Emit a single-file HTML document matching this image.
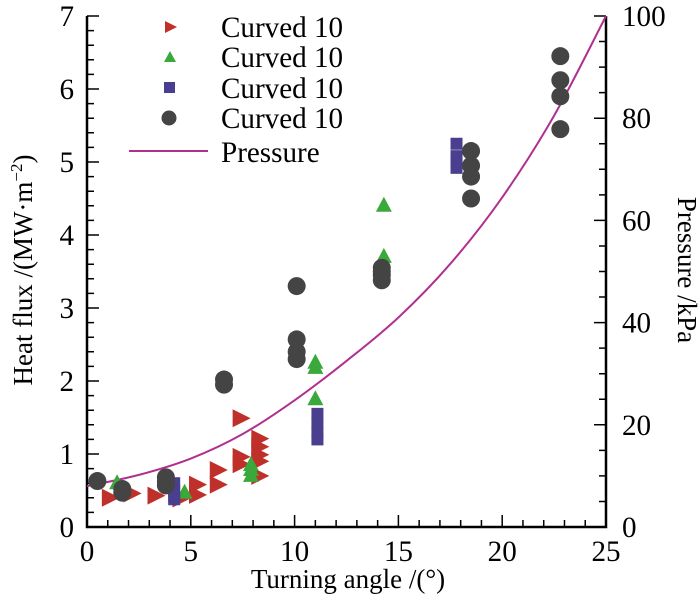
<!DOCTYPE html>
<html><head><meta charset="utf-8"><style>
body{margin:0;background:#fff}
svg{display:block}
svg text{font-family:"Liberation Serif","DejaVu Serif",serif}
</style></head><body>
<svg id="chart" width="700" height="600" viewBox="0 0 700 600"></svg>
<script>
const xTicks=[0,5,10,15,20,25];
const yTicks=[0,1,2,3,4,5,6,7];
const y2Ticks=[0,20,40,60,80,100];
const redX=[1.1,2.15,3.3,4.5,5.3,5.3,6.3,6.3,7.4,7.4,7.4,8.3,8.3,8.3,8.3,8.3];
const redY=[0.4,0.46,0.43,0.39,0.58,0.44,0.78,0.58,1.49,0.96,0.86,1.21,1.1,0.99,0.9,0.7];
const greenX=[1.45,4.7,7.9,7.9,7.9,11,11,11,14.3,14.3];
const greenY=[0.6,0.47,0.85,0.78,0.7,2.25,2.18,1.75,4.4,3.7];
const blueX=[4.2,4.2,4.2,4.2,11.1,11.1,11.1,11.1,17.8,17.8,17.8,17.8];
const blueY=[0.6,0.5,0.42,0.38,1.55,1.42,1.3,1.2,5.25,5.08,5.0,4.92];
const grayX=[0.5,1.7,1.7,3.8,3.8,3.8,6.6,6.6,10.1,10.1,10.1,10.1,14.2,14.2,14.2,14.2,18.5,18.5,18.5,18.5,22.8,22.8,22.8,22.8];
const grayY=[0.63,0.52,0.47,0.68,0.62,0.57,2.02,1.95,3.3,2.57,2.4,2.3,3.55,3.5,3.45,3.38,5.15,4.95,4.8,4.5,6.45,6.12,5.9,5.45];
const pressX=[0,2.5,5,7.5,10,12.5,15,17.5,20,22.5,25];
const pressY=[8,10.2,13.4,18.2,24.8,32.5,41,51.5,64.5,80.5,100];
const legendLabels=["Curved 10","Curved 10","Curved 10","Curved 10","Pressure"];

const X0=87,X1=606,Y0=527,Y1=16;
const sx=v=>X0+(v-0)/25*(X1-X0);
const sy=v=>Y0-v/7*(Y0-Y1);
const sy2=v=>Y0-v/100*(Y0-Y1);
const svg=document.getElementById('chart');
const NS='http://www.w3.org/2000/svg';
function mk(t,a,p){const e=document.createElementNS(NS,t);for(const k in a)e.setAttribute(k,a[k]);if(t==='text'){const fs=a['font-size']||27;e.removeAttribute('font-size');e.setAttribute('style',`font-family:'Liberation Serif','DejaVu Serif',serif;font-size:${fs}px`);}(p||svg).appendChild(e);return e;}
function big(x,y,anchor,txt,p){const t=mk('text',{transform:`translate(${x},${y}) scale(1.12)`,x:0,y:0,'text-anchor':anchor,'font-size':26},p);t.textContent=String(txt);return t;}

let ax=mk('path',{d:`M${X0},${Y1}V${Y0}H${X1}V${Y1}`,fill:'none',stroke:'#000','stroke-width':2.5});


let tk='';
for(let v=0;v<=25;v++){tk+=`M${sx(v)},${Y0}v${v%5?-7:-12}`;}
for(let i=0;i<=35;i++){const v=i*0.2;tk+=`M${X0},${sy(v)}h${i%5?7:12}`;}
for(let i=0;i<=20;i++){const v=i*5;tk+=`M${X1},${sy2(v)}h${i%4?-7:-12}`;}
let tp=mk('path',{d:tk,stroke:'#000','stroke-width':1.5,fill:'none'});


xTicks.forEach(v=>{const t=big(sx(v),561,'middle',v);

});
yTicks.forEach(v=>{const t=big(74,sy(v)+10,'end',v);

});
y2Ticks.forEach(v=>{const t=big(622,sy2(v)+10,'start',v);

});
let xt=mk('text',{x:348,y:588,'text-anchor':'middle','font-size':27});xt.textContent='Turning angle /(°)';


let yt=mk('text',{transform:'translate(32,270) rotate(-90)','text-anchor':'middle','font-size':27});
yt.innerHTML='Heat flux /(MW·m<tspan style="font-size:17px" dy="-10">−2</tspan><tspan dy="10">)</tspan>';


let y2t=mk('text',{transform:'translate(678,270) rotate(90)','text-anchor':'middle','font-size':27});y2t.textContent='Pressure /kPa';



const pts=pressX.map((x,i)=>[sx(x),sy2(pressY[i])]);
let d=`M${pts[0][0]},${pts[0][1]}`;
for(let i=0;i<pts.length-1;i++){const p0=pts[Math.max(0,i-1)],p1=pts[i],p2=pts[i+1],p3=pts[Math.min(pts.length-1,i+2)];
d+=`C${p1[0]+(p2[0]-p0[0])/6},${p1[1]+(p2[1]-p0[1])/6} ${p2[0]-(p3[0]-p1[0])/6},${p2[1]-(p3[1]-p1[1])/6} ${p2[0]},${p2[1]}`;}
let pl=mk('path',{d:d,fill:'none',stroke:'#b0308f','stroke-width':2});



function marker(type,cx,cy,g){
  if(type==='red')return mk('polygon',{points:`${cx-8},${cy-9} ${cx+10},${cy} ${cx-8},${cy+9}`,fill:'#c0302a'},g);
  if(type==='green')return mk('polygon',{points:`${cx},${cy-9} ${cx+8},${cy+6} ${cx-8},${cy+6}`,fill:'#3aa83a'},g);
  if(type==='blue')return mk('rect',{x:cx-6,y:cy-6,width:12,height:12,fill:'#4a3f8f'},g);
  return mk('circle',{cx:cx,cy:cy,r:9,fill:'#444'},g);
}
const series=[['red',redX,redY],['green',greenX,greenY],['blue',blueX,blueY],['gray',grayX,grayY]];
series.forEach(([t,xs,ys])=>{
  const g=mk('g',{});
  
  
  xs.forEach((x,i)=>{const m=marker(t,sx(x),sy(ys[i]),g);
    
    });
});

const lg=mk('g',{});


const rows=[27,57,88,118,152];
['red','green','blue','gray'].forEach((t,i)=>{
  const g=mk('g',{},lg);
  
  
  if(t==='red')mk('polygon',{points:`165,${rows[i]-6} 177,${rows[i]} 165,${rows[i]+6}`,fill:'#c0302a'},g);
  else if(t==='green')mk('polygon',{points:`170,${rows[i]-6} 176,${rows[i]+5} 164,${rows[i]+5}`,fill:'#3aa83a'},g);
  else if(t==='blue')mk('rect',{x:164,y:rows[i]-6,width:11,height:11,fill:'#4a3f8f'},g);
  else mk('circle',{cx:169,cy:rows[i],r:7.5,fill:'#444'},g);
  big(221,rows[i]+10,'start',legendLabels[i],g);
});
const g5=mk('g',{},lg);


mk('line',{x1:129,y1:151,x2:208,y2:151,stroke:'#b0308f','stroke-width':2},g5);
big(221,162,'start',legendLabels[4],g5);
</script>
</body></html>
